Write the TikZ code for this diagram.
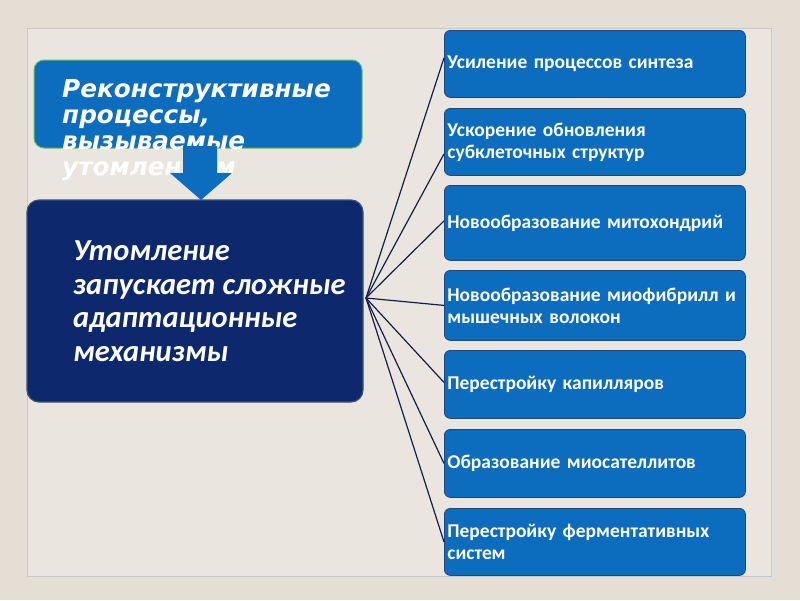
\documentclass[tikz,border=0pt]{standalone}
\usepackage{fontspec}
\setmainfont{Carlito}[WordSpace=0.6]
\newfontfamily\darkfont{Carlito}
\newfontfamily\topfont{DejaVu Sans}
\definecolor{bg}{RGB}{228,222,212}
\definecolor{panel}{RGB}{234,230,223}
\definecolor{panelline}{RGB}{205,200,192}
\definecolor{boxblue}{RGB}{12,108,190}
\definecolor{boxborder}{RGB}{30,70,130}
\definecolor{topgreen}{RGB}{100,190,100}
\definecolor{navy}{RGB}{14,40,110}
\definecolor{navyborder}{RGB}{60,80,120}
\definecolor{conn}{RGB}{20,30,75}
\tikzset{
  rbox/.style={draw=boxborder, line width=0.8pt, fill=boxblue, rounded corners=6pt,
    minimum width=301pt, text width=295pt, inner xsep=3pt, inner ysep=2pt,
    align=left, anchor=north west, text=white,
    font=\bfseries\fontsize{19.5}{22}\selectfont},
  connline/.style={draw=conn, line width=1.2pt},
}
\begin{document}
\begin{tikzpicture}[x=1pt,y=-1pt]
\useasboundingbox (0,0) rectangle (800,600);
\fill[bg] (0,0) rectangle (800,600);
\fill[black!12] (30,31) rectangle (775,579);
\draw[panelline, fill=panel] (27,28) rectangle (771,576);

% top box
\node[draw=topgreen, line width=1pt, fill=boxblue, rounded corners=10pt,
  minimum width=328pt, minimum height=88pt] (recon) at (198,104) {};
\node[anchor=north west, align=left, inner sep=0pt, text=white,
  font=\topfont\bfseries\itshape\fontsize{24.7}{26}\selectfont] (recontext) at (62,79)
  {Реконструктивные\\процессы,\\вызываемые\\утомлением};

% dark box
\node[draw=navyborder, line width=1.2pt, fill=navy, rounded corners=12pt,
  minimum width=336pt, minimum height=202pt] (fatigue) at (195,301) {};
\node[anchor=north west, align=left, inner sep=0pt, text=white,
  font=\darkfont\bfseries\itshape\fontsize{30.5}{33.5}\selectfont] (fatiguetext) at (73,241)
  {Утомление\\запускает сложные\\адаптационные\\механизмы};

% block arrow
\fill[boxblue] (183,146) -- (217,146) -- (217,173) -- (232,173) -- (201,200)
  -- (170,173) -- (183,173) -- cycle;

% right boxes
\node[rbox, minimum height=67pt] (b1) at (444,30) {Усиление процессов синтеза};
\node[rbox, minimum height=67pt] (b2) at (444,108) {Ускорение обновления\\субклеточных структур};
\node[rbox, minimum height=75pt] (b3) at (444,185) {Новообразование митохондрий};
\node[rbox, minimum height=70pt] (b4) at (444,270) {Новообразование миофибрилл и\\мышечных волокон};
\node[rbox, minimum height=68pt] (b5) at (444,350) {Перестройку капилляров};
\node[rbox, minimum height=68pt] (b6) at (444,429) {Образование миосателлитов};
\node[rbox, minimum height=67pt] (b7) at (444,508) {Перестройку ферментативных\\систем};

% connectors
\coordinate (hub) at (366,298);
\draw[connline] (hub) -- ([yshift=6pt]b1.west);
\draw[connline] (hub) -- ([yshift=-12pt]b2.west);
\draw[connline] (hub) -- ([yshift=2pt]b3.west);
\draw[connline] (hub) -- (b4.west);
\draw[connline] (hub) -- ([yshift=2pt]b5.west);
\draw[connline] (hub) -- (b6.west);
\draw[connline] (hub) -- (b7.west);
\end{tikzpicture}
\end{document}
